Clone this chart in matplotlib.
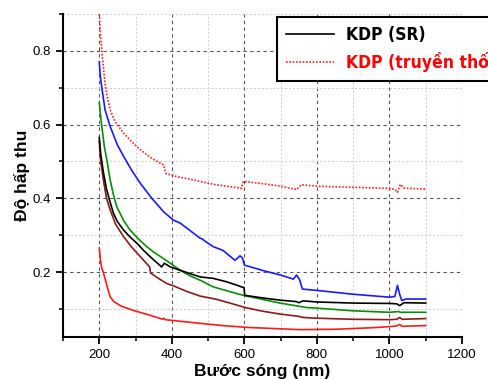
import numpy as np
import matplotlib
matplotlib.use("Agg")
import matplotlib.pyplot as plt
from matplotlib.ticker import MultipleLocator
from matplotlib import font_manager

# wavelengths (nm) / absorbance
x_trad = [200, 203, 207, 212, 216, 222, 230, 244, 267, 290, 313, 340, 359, 377, 380, 384,
          414, 450, 478, 520, 560, 592, 597, 650, 700, 744, 752, 757, 800, 900, 1000,
          1015, 1022, 1030, 1040, 1100]
y_trad = [0.90, 0.85, 0.80, 0.75, 0.71, 0.675, 0.64, 0.607, 0.577, 0.553, 0.532, 0.512, 0.50,
          0.491, 0.48, 0.467, 0.459, 0.452, 0.446, 0.437, 0.432, 0.427, 0.446, 0.44, 0.433,
          0.424, 0.432, 0.437, 0.433, 0.43, 0.427, 0.424, 0.416, 0.438, 0.428, 0.425]

x_blue = [200, 203, 207, 216, 230, 250, 267, 290, 313, 345, 377, 404, 423, 478, 484, 490,
          514, 541, 574, 588, 595, 600, 652, 700, 735, 744, 752, 760, 803, 900, 1000,
          1015, 1022, 1028, 1034, 1045, 1100]
y_blue = [0.77, 0.73, 0.70, 0.64, 0.595, 0.545, 0.514, 0.475, 0.441, 0.40, 0.364, 0.341,
          0.333, 0.292, 0.29, 0.285, 0.269, 0.259, 0.232, 0.244, 0.238, 0.219, 0.204, 0.192,
          0.181, 0.192, 0.18, 0.154, 0.15, 0.14, 0.132, 0.134, 0.164, 0.14, 0.123, 0.127, 0.127]

x_green = [200, 203, 207, 214, 221, 230, 239, 248, 267, 285, 310, 331, 349, 372, 396, 423,
           450, 478, 514, 560, 597, 650, 698, 771, 803, 900, 1000, 1025, 1030, 1100]
y_green = [0.66, 0.63, 0.595, 0.54, 0.504, 0.45, 0.41, 0.378, 0.34, 0.314, 0.288, 0.269,
           0.255, 0.24, 0.224, 0.205, 0.19, 0.178, 0.16, 0.147, 0.137, 0.126, 0.116, 0.104,
           0.102, 0.095, 0.091, 0.093, 0.091, 0.091]

x_sr = [200, 204, 212, 220, 228, 239, 250, 267, 285, 304, 321, 340, 356, 372, 379, 396, 423,
        450, 478, 514, 550, 578, 592, 599, 601, 650, 698, 744, 750, 762, 800, 900, 1000,
        1020, 1028, 1040, 1100]
y_sr = [0.565, 0.52, 0.467, 0.425, 0.396, 0.36, 0.337, 0.314, 0.295, 0.278, 0.26, 0.242,
        0.228, 0.214, 0.224, 0.214, 0.205, 0.196, 0.187, 0.183, 0.174, 0.165, 0.16, 0.158,
        0.137, 0.13, 0.124, 0.12, 0.117, 0.122, 0.119, 0.116, 0.115, 0.114, 0.109, 0.117, 0.116]

x_brown = [200, 204, 212, 220, 230, 245, 267, 290, 313, 339, 341, 360, 386, 404, 440, 478,
           524, 560, 602, 650, 700, 750, 762, 800, 900, 1000, 1020, 1028, 1035, 1100]
y_brown = [0.555, 0.50, 0.446, 0.40, 0.369, 0.33, 0.296, 0.267, 0.242, 0.214, 0.198, 0.185,
           0.169, 0.163, 0.148, 0.135, 0.126, 0.116, 0.104, 0.094, 0.086, 0.08, 0.077, 0.075,
           0.072, 0.071, 0.072, 0.077, 0.072, 0.074]

x_red = [200, 203, 206, 212, 218, 222, 230, 240, 260, 294, 340, 375, 378, 382, 430, 478,
         540, 607, 680, 753, 850, 950, 1000, 1020, 1028, 1035, 1100]
y_red = [0.265, 0.235, 0.215, 0.196, 0.175, 0.16, 0.133, 0.12, 0.108, 0.096, 0.083, 0.072,
         0.075, 0.071, 0.066, 0.061, 0.055, 0.05, 0.047, 0.044, 0.045, 0.049, 0.052, 0.054,
         0.058, 0.053, 0.055]

fig = plt.figure(figsize=(4.89, 3.79), dpi=100)
ax = fig.add_axes([63/489, 1-337/379, (462-63)/489, (337-14)/379])

lw = 1.2
ax.plot(x_red, y_red, color='#ff1a1a', lw=lw)
ax.plot(x_brown, y_brown, color='#8b1a1a', lw=lw)
ax.plot(x_green, y_green, color='#0a8c0a', lw=lw)
ax.plot(x_sr, y_sr, color='black', lw=lw, label='KDP (SR)')
ax.plot(x_blue, y_blue, color='#1a1aff', lw=lw)
ax.plot(x_trad, y_trad, color='#ff2020', lw=lw, ls=(0, (1, 1)), label='KDP (truyền thống)')

ax.set_xlim(100, 1200)
ax.set_ylim(0.024, 0.9)
ax.xaxis.set_major_locator(MultipleLocator(200))
ax.xaxis.set_minor_locator(MultipleLocator(100))
ax.yaxis.set_major_locator(MultipleLocator(0.2))
ax.yaxis.set_minor_locator(MultipleLocator(0.1))

ax.grid(which='major', color='#555555', ls=(0, (3, 3)), lw=0.8)
ax.grid(which='minor', color='#cccccc', ls=(0, (2, 2)), lw=0.7)
ax.set_axisbelow(True)

for s in ['top', 'right']:
    ax.spines[s].set_visible(False)
for s in ['left', 'bottom']:
    ax.spines[s].set_linewidth(1.5)

ax.tick_params(which='major', length=5, width=1.3, labelsize=9.5, direction='out')
ax.tick_params(which='minor', length=3, width=1.1, direction='out')
ax.set_yticks([0.2, 0.4, 0.6, 0.8])
ax.set_yticklabels(['0.2', '0.4', '0.6', '0.8'])

for lab in ax.get_xticklabels() + ax.get_yticklabels():
    lab.set_family('Liberation Sans')

ax.set_xlabel('Bước sóng (nm)', fontsize=12.5, fontweight='bold', family='Liberation Sans', labelpad=2)
ax.set_ylabel('Độ hấp thu', fontsize=12.5, fontweight='bold', family='Liberation Sans', labelpad=2)

# condensed bold face for the legend
leg_font = font_manager.FontProperties(family='DejaVu Sans', weight='bold', stretch='condensed', size=12.5)
leg = ax.legend(loc='upper left', bbox_to_anchor=(277/489, 1-17/379), bbox_transform=fig.transFigure,
                borderaxespad=0, fancybox=False, edgecolor='black', framealpha=1,
                handlelength=2.8, handletextpad=0.7, borderpad=0.5, labelspacing=0.5,
                prop=leg_font)
leg.get_frame().set_linewidth(1.5)
leg.get_texts()[1].set_color('red')

fig.savefig('out.png', dpi=100)
